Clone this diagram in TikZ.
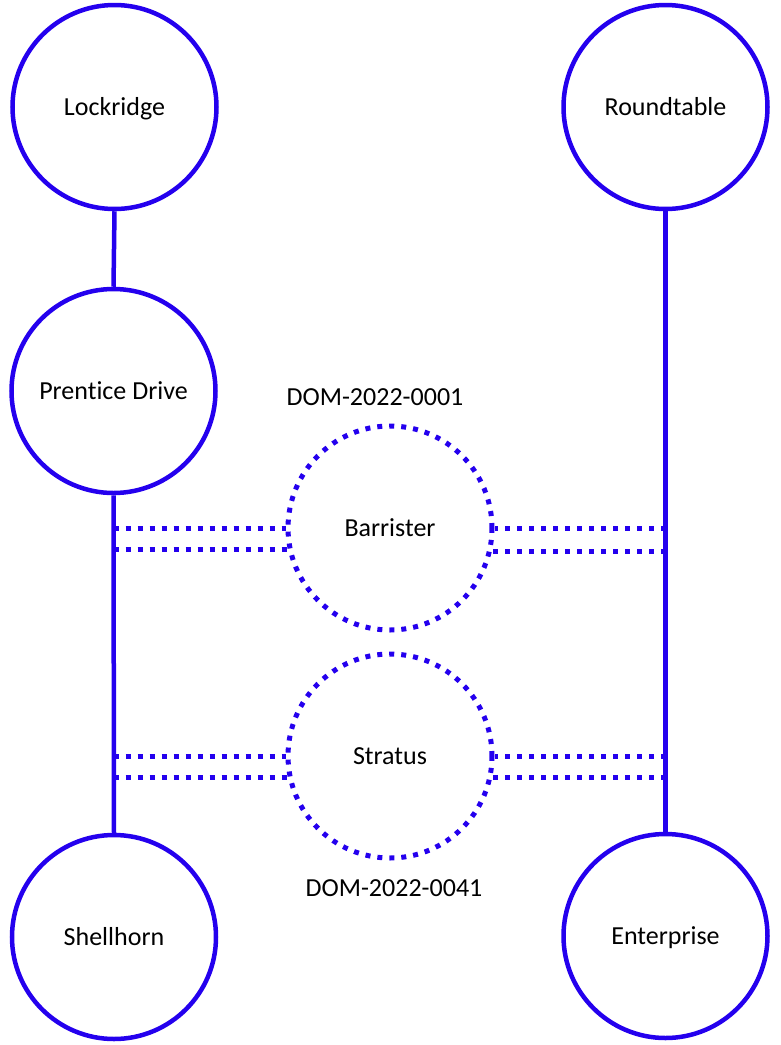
\documentclass[tikz,border=0pt]{standalone}
\usepackage{fontspec}
\setmainfont{Carlito}[Ligatures=NoCommon,RawFeature={-liga;-clig;-calt;-dlig}]
\definecolor{lineblue}{RGB}{36,0,238}
\begin{document}
\begin{tikzpicture}[x=1pt,y=-1pt,
  txt/.style={font=\fontsize{26}{30}\selectfont,text height=20pt,text depth=3.3pt},
  station/.style={circle,draw=lineblue,line width=4.5pt,minimum size=204pt,inner sep=0pt,txt},
  planned/.style={circle,draw=lineblue,line width=5pt,dash pattern=on 5pt off 7pt,minimum size=204pt,inner sep=0pt,txt},
  track/.style={draw=lineblue,line width=4.5pt},
  dotline/.style={draw=lineblue,line width=5pt,dash pattern=on 5pt off 7pt},
  tag/.style={txt,inner sep=0pt}]
\useasboundingbox (0,0) rectangle (781,1045);
\node[station] (lock) at (114.5,107) {Lockridge};
\node[station] (round) at (665.5,107) {Roundtable};
\node[station] (prent) at (113.5,391) {Prentice Drive};
\node[station] (shell) at (114,937) {Shellhorn};
\node[station] (ent) at (665.5,936) {Enterprise};
\node[planned] (barr) at (390,528) {Barrister};
\node[planned] (strat) at (390,756) {Stratus};
\node[tag] (t1) at (375,397) {DOM-2022-0001};
\node[tag] (t2) at (394,888) {DOM-2022-0041};
\draw[track] (lock.south) -- (prent.north);
\draw[track] (prent.south) -- (shell.north);
\draw[track] (round.south) -- (ent.north);
\draw[dotline] (barr.west -| prent.south) -- (barr.west);
\draw[dotline] (barr.192.4 -| prent.south) -- (barr.192.4);
\draw[dotline] (barr.east -| round.south) -- (barr.east);
\draw[dotline] (barr.347.6 -| round.south) -- (barr.347.6);
\draw[dotline] (strat.west -| prent.south) -- (strat.west);
\draw[dotline] (strat.192 -| prent.south) -- (strat.192);
\draw[dotline] (strat.east -| round.south) -- (strat.east);
\draw[dotline] (strat.348 -| round.south) -- (strat.348);
\end{tikzpicture}
\end{document}
